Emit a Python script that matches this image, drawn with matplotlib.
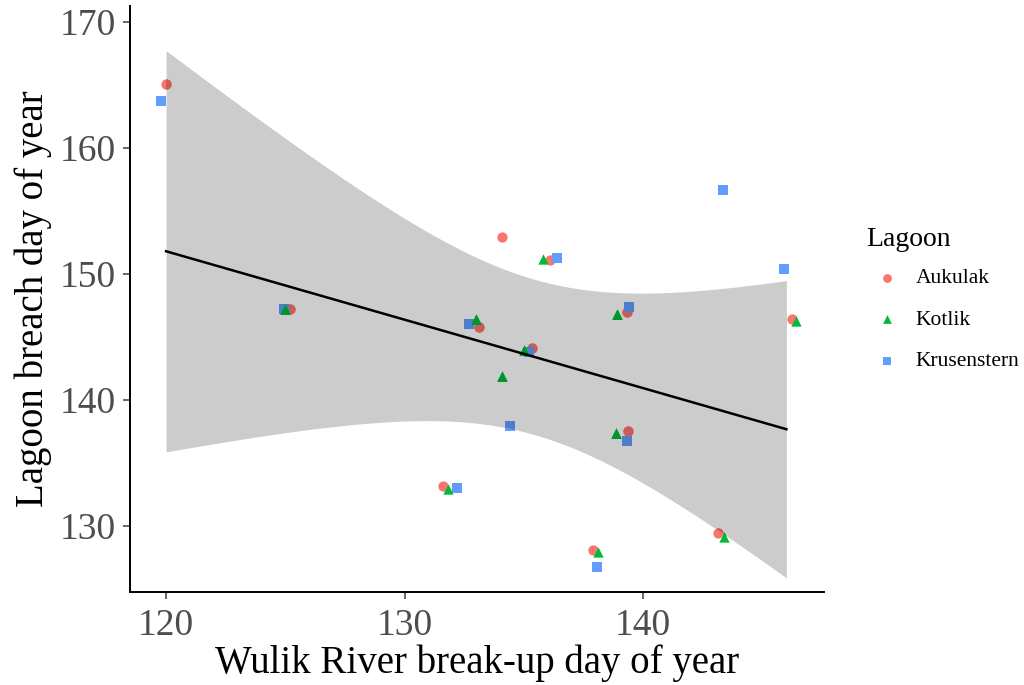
import matplotlib.pyplot as plt
import matplotlib.colors as mcolors
import numpy as np

# Wulik River break-up day (x, jittered as plotted) vs lagoon breach day (y)
auk_x = [120.0, 125.2, 134.1, 136.1, 133.1, 135.35, 139.33, 139.37, 131.6, 137.9, 143.14, 146.25]
auk_y = [165.1, 147.2, 152.9, 151.1, 145.8, 144.1, 147.0, 137.5, 133.2, 128.1, 129.4, 146.4]
kot_x = [125.0, 133.0, 135.8, 134.1, 135.0, 138.9, 138.87, 131.8, 138.1, 143.4, 146.4]
kot_y = [147.2, 146.4, 151.2, 141.9, 144.0, 146.8, 137.4, 132.9, 127.9, 129.1, 146.3]
kru_x = [119.8, 124.95, 132.7, 136.4, 135.2, 139.4, 139.3, 134.4, 132.2, 138.07, 143.35, 145.9]
kru_y = [163.7, 147.2, 146.0, 151.3, 143.8, 147.4, 136.7, 137.9, 133.0, 126.7, 156.7, 150.4]

lagoons = ['Aukulak', 'Kotlik', 'Krusenstern']
colors = ['#F8766D', '#00BA38', '#619CFF']
markers = ['o', '^', 's']
zorders = [2.0, 2.2, 2.1]

plt.rcParams['font.family'] = ['Liberation Serif', 'DejaVu Serif']

fig = plt.figure(figsize=(10.24, 6.85), dpi=100)
ax = fig.add_axes([0.127, 0.136, 0.678, 0.855])

# pooled linear fit (x back to whole days); band uses one observation per break-up day
xall = np.round(np.concatenate([auk_x, kot_x, kru_x]))
yall = np.concatenate([auk_y, kot_y, kru_y])
n = len(xall)
m = len(np.unique(xall))
b, a = np.polyfit(xall, yall, 1)
res = yall - (a + b * xall)
s = np.sqrt(np.sum(res ** 2) / (n - 2))
sxx = np.sum((xall - xall.mean()) ** 2) * m / n
xs = np.linspace(xall.min(), xall.max(), 80)
fit = a + b * xs
tval = 2.262  # t(0.975, df=9)
hw = tval * s * np.sqrt(1 / m + (xs - xall.mean()) ** 2 / sxx)
band = ax.fill_between(xs, fit - hw, fit + hw, color='#CCCCCC', linewidth=0, zorder=1)

groups = [(auk_x, auk_y), (kot_x, kot_y), (kru_x, kru_y)]
for (gx, gy), lab, c, mk, z in zip(groups, lagoons, colors, markers, zorders):
    ax.scatter(gx, gy, s=55, c=c, marker=mk, label=lab, linewidths=0, zorder=z)
    # darker copy where the grey band sits on the points
    dark = np.array(mcolors.to_rgb(c)) * 0.8
    sc = ax.scatter(gx, gy, s=55, color=dark, marker=mk, linewidths=0, zorder=z + 0.01)
    sc.set_clip_path(band.get_paths()[0], transform=ax.transData)

ax.plot(xs, fit, color='black', lw=1.8, zorder=4)

ax.set_xlim(118.49, 147.59)
ax.set_ylim(124.76, 171.27)
ax.set_xticks([120, 130, 140])
ax.set_yticks([130, 140, 150, 160, 170])
for sp in ['top', 'right']:
    ax.spines[sp].set_visible(False)
for sp in ['left', 'bottom']:
    ax.spines[sp].set_linewidth(1.4)
ax.tick_params(labelsize=27, colors='#4D4D4D', length=5, width=1.2, labelcolor='#4D4D4D')
ax.tick_params(axis='x', pad=7)
ax.tick_params(axis='y', pad=5)
ax.set_xlabel('Wulik River break-up day of year', fontsize=28, labelpad=1)
ax.set_ylabel('Lagoon breach day of year', fontsize=28, labelpad=6)

leg = ax.legend(title='Lagoon', loc='center left', bbox_to_anchor=(1.032, 0.50),
                frameon=False, fontsize=15.5, title_fontsize=20, markerscale=0.85,
                handletextpad=0.3, labelspacing=1.0)
leg._legend_box.align = 'left'
leg._legend_box.sep = 12

fig.savefig('out.png', dpi=100)
